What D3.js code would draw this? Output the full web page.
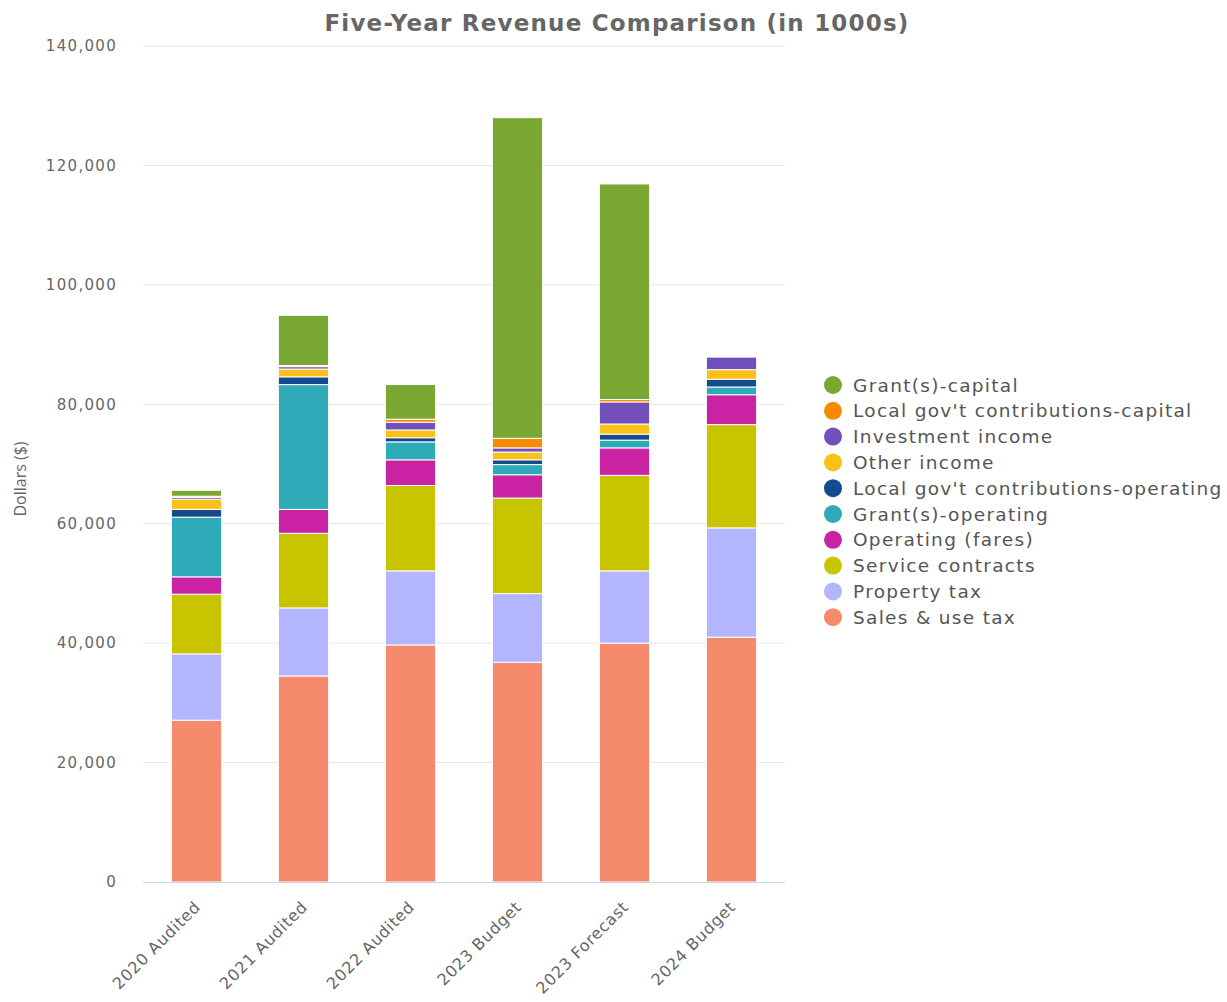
<!DOCTYPE html>
<html>
<head>
<meta charset="utf-8">
<script src="https://cdn.jsdelivr.net/npm/d3@7"></script>
<style>
  html, body { margin: 0; padding: 0; background: #fff; }
  svg { display: block; font-family: "DejaVu Sans", "Open Sans", sans-serif; }
</style>
</head>
<body>
<svg id="chart" width="1227" height="1002"></svg>
<script>
// Revenue by year (in 1000s of dollars)
const categories = ["2020 Audited", "2021 Audited", "2022 Audited", "2023 Budget", "2023 Forecast", "2024 Budget"];

// Series listed bottom of stack first
const seriesNames = [
  "Sales & use tax",
  "Property tax",
  "Service contracts",
  "Operating (fares)",
  "Grant(s)-operating",
  "Local gov't contributions-operating",
  "Other income",
  "Investment income",
  "Local gov't contributions-capital",
  "Grant(s)-capital"
];
const seriesColors = ["#f68a6d", "#b3b5ff", "#c8c400", "#c923a3", "#2eaab8", "#154a8c", "#fcc116", "#7150bb", "#f78b00", "#7aa731"];

const salesTax          = [27100, 34500, 39700, 36800, 40000, 41000];
const propertyTax       = [11100, 11400, 12400, 11500, 12100, 18300];
const serviceContracts  = [10000, 12500, 14300, 16000, 16000, 17300];
const operatingFares    = [2900, 4000, 4300, 3900, 4600, 5000];
const grantsOperating   = [10000, 20900, 3000, 1700, 1300, 1300];
const localGovOperating = [1300, 1300, 700, 800, 1000, 1300];
const otherIncome       = [1700, 1300, 1300, 1300, 1700, 1600];
const investmentIncome  = [300, 400, 1300, 700, 3700, 2100];
const localGovCapital   = [200, 200, 500, 1600, 400, 0];
const grantsCapital     = [1000, 8400, 5800, 53700, 36100, 0];

const yTicks = [0, 20000, 40000, 60000, 80000, 100000, 120000, 140000];

const seriesValues = [salesTax, propertyTax, serviceContracts, operatingFares, grantsOperating,
  localGovOperating, otherIncome, investmentIncome, localGovCapital, grantsCapital];

const rows = categories.map((c, i) => {
  const r = { category: c };
  seriesNames.forEach((n, k) => { r[n] = seriesValues[k][i]; });
  return r;
});

const svg = d3.select("#chart");
const margin = { left: 143, right: 442, top: 46, bottom: 120 };
const width = 1227, height = 1002;
const plotW = width - margin.left - margin.right;
const plotH = height - margin.top - margin.bottom;

const x = d3.scaleBand().domain(categories).range([margin.left, margin.left + plotW]).paddingInner(0.53).paddingOuter(0.265);
const y = d3.scaleLinear().domain([0, 140000]).range([margin.top + plotH, margin.top]);

// Title
svg.append("text")
  .attr("x", 617).attr("y", 31)
  .attr("text-anchor", "middle")
  .attr("font-size", 23).attr("font-weight", "bold")
  .attr("letter-spacing", 1.2)
  .attr("fill", "#666666")
  .text("Five-Year Revenue Comparison (in 1000s)");

// Grid lines
svg.append("g")
  .selectAll("line")
  .data(yTicks.filter(t => t > 0))
  .join("line")
  .attr("x1", margin.left).attr("x2", margin.left + plotW)
  .attr("y1", d => y(d)).attr("y2", d => y(d))
  .attr("stroke", "#e6e6e6").attr("stroke-width", 1);

// Y axis labels
const yAxis = d3.axisLeft(y).tickValues(yTicks).tickSize(0).tickPadding(26).tickFormat(d3.format(","));
const yg = svg.append("g").attr("transform", `translate(${margin.left},0)`).call(yAxis);
yg.select(".domain").remove();
yg.selectAll("text")
  .attr("font-size", 15).attr("fill", "#666666")
  .attr("font-family", "\"DejaVu Sans\", sans-serif")
  .attr("letter-spacing", 1.3);

// Y axis title
svg.append("text")
  .attr("transform", `translate(26, 479) rotate(-90)`)
  .attr("text-anchor", "middle")
  .attr("font-size", 16).attr("fill", "#666666")
  .attr("font-family", "\"Open Sans\", sans-serif")
  .text("Dollars ($)");

// Stacked bars
const stack = d3.stack().keys(seriesNames)(rows);
svg.append("g")
  .selectAll("g")
  .data(stack)
  .join("g")
  .attr("fill", (d, i) => seriesColors[i])
  .selectAll("rect")
  .data(d => d.filter(p => p[1] - p[0] > 0))
  .join("rect")
  .attr("x", d => x(d.data.category))
  .attr("width", x.bandwidth())
  .attr("y", d => y(d[1]))
  .attr("height", d => y(d[0]) - y(d[1]))
  .attr("stroke", "#ffffff").attr("stroke-width", 1);

// X axis line
svg.append("line")
  .attr("x1", margin.left).attr("x2", margin.left + plotW)
  .attr("y1", y(0) + 0.5).attr("y2", y(0) + 0.5)
  .attr("stroke", "#ccd6eb").attr("stroke-width", 1);

// X axis labels
svg.append("g")
  .selectAll("text")
  .data(categories)
  .join("text")
  .attr("transform", d => `translate(${x(d) + x.bandwidth() / 2 + 5}, ${y(0) + 26}) rotate(-45)`)
  .attr("text-anchor", "end")
  .attr("font-size", 16).attr("letter-spacing", 0.7).attr("fill", "#666666")
  .text(d => d);

// Legend (top of stack first)
const legendItems = seriesNames.map((n, i) => ({ name: n, color: seriesColors[i] })).reverse();
const lg = svg.append("g").attr("transform", "translate(833, 385)");
const li = lg.selectAll("g").data(legendItems).join("g")
  .attr("transform", (d, i) => `translate(0, ${i * 25.8})`);
li.append("circle").attr("r", 9).attr("cx", 0).attr("cy", 0).attr("fill", d => d.color);
li.append("text").attr("x", 20).attr("y", 6.5)
  .attr("font-size", 18.5).attr("letter-spacing", 1.3).attr("fill", "#555555")
  .text(d => d.name);
</script>
</body>
</html>
